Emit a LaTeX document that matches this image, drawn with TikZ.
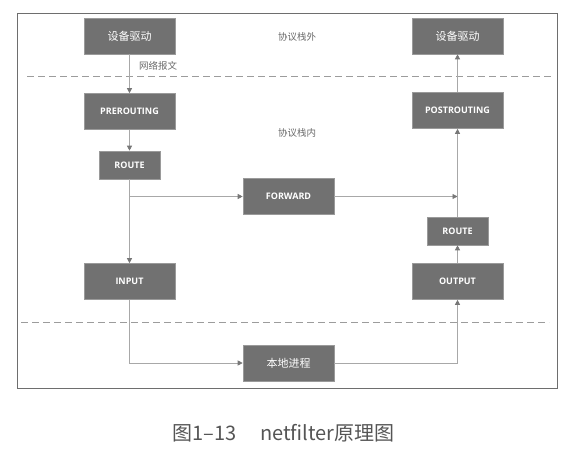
\documentclass[tikz,border=0pt]{standalone}
\usepackage{fontspec}
\setmainfont{Open Sans}
\newfontfamily\cjk{Noto Sans CJK SC}
\usetikzlibrary{arrows.meta}
\definecolor{boxgray}{HTML}{717171}
\definecolor{boxedge}{HTML}{9A9A9A}
\definecolor{linegray}{HTML}{A8A8A8}
\definecolor{tipgray}{HTML}{777777}
\definecolor{dashgray}{HTML}{9C9C9C}
\definecolor{framegray}{HTML}{6E6E6E}
\definecolor{labgray}{HTML}{6A6A6A}
\definecolor{capgray}{HTML}{555555}
\begin{document}
\begin{tikzpicture}[x=1pt,y=-1pt,
  box/.style={fill=boxgray,draw=boxedge,line width=0.6pt,text=white,minimum width=91pt,minimum height=36pt,inner sep=0pt,font=\bfseries\fontsize{9}{11}\selectfont},
  smallbox/.style={box,minimum width=61pt,minimum height=28pt},
  cjkbox/.style={box,font=\cjk\fontsize{11}{13}\selectfont},
  conn/.style={draw=linegray,line width=0.8pt,-{Triangle[length=5pt,width=5pt,fill=tipgray,color=tipgray]}},
  sep/.style={draw=dashgray,line width=0.9pt,dash pattern=on 7pt off 4pt},
  lab/.style={text=labgray,font=\cjk\fontsize{9.5}{11}\selectfont,inner sep=0pt}
]
\useasboundingbox (0,0) rectangle (575,455);
\fill[white] (0,0) rectangle (575,455);
\draw[framegray,line width=1pt] (17,13) rectangle (557,388);

\coordinate (d1a) at (27,76);
\coordinate (d1b) at (553,76);
\coordinate (d2a) at (21,322);
\coordinate (d2b) at (549,322);
\draw[sep] (d1a) -- (d1b);
\draw[sep] (d2a) -- (d2b);

\node[cjkbox] (devL) at (129.5,36) {设备驱动};
\node[cjkbox] (devR) at (457.5,36) {设备驱动};
\node[box] (pre) at (129.5,111.5) {PREROUTING};
\node[box] (post) at (457.5,110.5) {POSTROUTING};
\node[smallbox] (routeL) at (129.5,165) {ROUTE};
\node[box] (fwd) at (288.5,196.5) {FORWARD};
\node[smallbox] (routeR) at (457.5,231) {ROUTE};
\node[box] (input) at (129.5,281.5) {INPUT};
\node[box] (output) at (457.5,281.5) {OUTPUT};
\node[cjkbox] (local) at (288.5,363) {本地进程};

\node[lab] (outside) at (297,37) {协议栈外};
\node[lab] (inside) at (297,133) {协议栈内};
\node[lab,anchor=west] (pkt) at (139,66) {网络报文};

\node[text=capgray,font=\cjk\fontsize{20}{24}\selectfont,inner sep=0pt,anchor=west] (cap) at (172,433) {图1–13\hspace{1.2em}netfilter原理图};

\coordinate (split) at (routeL.south |- fwd.west);
\coordinate (merge) at (routeR.north |- fwd.east);
\coordinate (inturn) at (input.south |- local.west);
\coordinate (outturn) at (output.south |- local.east);

\draw[conn] (devL.south) -- (pre.north);
\draw[conn] (pre.south) -- (routeL.north);
\draw[conn] (routeL.south) -- (input.north);
\draw[conn] (split) -- (fwd.west);
\draw[conn] (fwd.east) -- (merge);
\draw[conn] (routeR.north) -- (post.south);
\draw[conn] (post.north) -- (devR.south);
\draw[conn] (output.north) -- (routeR.south);
\draw[conn] (input.south) -- (inturn) -- (local.west);
\draw[conn] (local.east) -- (outturn) -- (output.south);
\end{tikzpicture}
\end{document}
